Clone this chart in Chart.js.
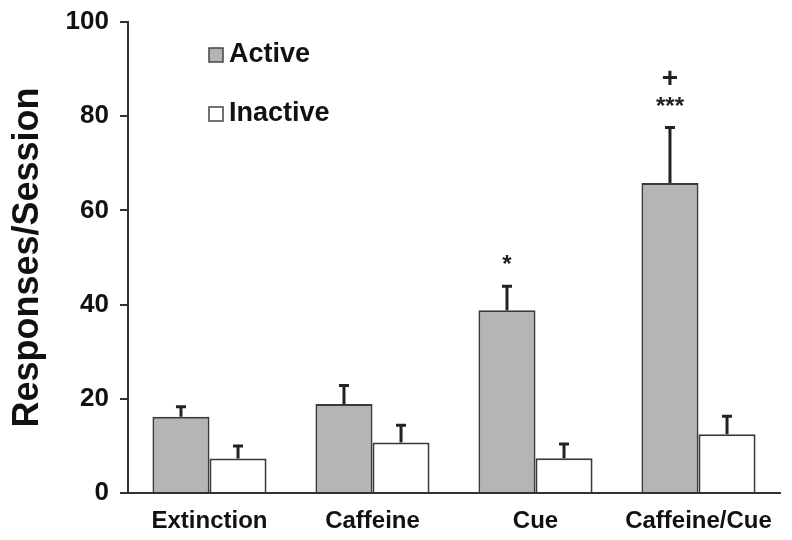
<!DOCTYPE html>
<html>
<head>
<meta charset="utf-8">
<script src="https://cdn.jsdelivr.net/npm/chart.js@4"></script>
<style>
  html, body { margin: 0; padding: 0; background: #fff; }
  #wrap { width: 792px; height: 540px; }
</style>
</head>
<body>
<div id="wrap"><canvas id="chart-responses"></canvas></div>
<script>
// data
var categories = ['Extinction', 'Caffeine', 'Cue', 'Caffeine/Cue'];
var activeMean = [16.2, 18.9, 38.8, 65.8];
var activeSem = [2.1, 3.9, 5.1, 11.8];
var inactiveMean = [7.3, 10.7, 7.4, 12.5];
var inactiveSem = [2.7, 3.7, 3.0, 3.8];
var activeMarks = ['', '', '*', '***'];
var activeMarks2 = ['', '', '', '+'];
var yTicks = [0, 20, 40, 60, 80, 100];

var axisColor = '#333';
var fontFam = 'Liberation Sans, Arial, sans-serif';

// error bars (upper half only) + significance marks
var errorBars = {
    id: 'errorBars',
    afterDatasetsDraw: function (chart) {
        var ctx = chart.ctx;
        var y = chart.scales.y;
        var sems = [activeSem, inactiveSem];
        ctx.save();
        ctx.strokeStyle = '#222';
        ctx.lineWidth = 3;
        chart.data.datasets.forEach(function (ds, i) {
            var meta = chart.getDatasetMeta(i);
            meta.data.forEach(function (bar, j) {
                var top = y.getPixelForValue(ds.data[j]);
                var hi = y.getPixelForValue(ds.data[j] + sems[i][j]);
                ctx.beginPath();
                ctx.moveTo(bar.x, top);
                ctx.lineTo(bar.x, hi);
                ctx.moveTo(bar.x - 5, hi);
                ctx.lineTo(bar.x + 5, hi);
                ctx.stroke();
                if (i === 0) {
                    ctx.fillStyle = '#222';
                    ctx.textAlign = 'center';
                    ctx.textBaseline = 'alphabetic';
                    if (activeMarks[j]) {
                        ctx.font = 'bold 24px ' + fontFam;
                        ctx.fillText(activeMarks[j], bar.x, hi - 14);
                    }
                    if (activeMarks2[j]) {
                        ctx.font = 'bold 28px ' + fontFam;
                        ctx.fillText(activeMarks2[j], bar.x, hi - 41);
                    }
                }
            });
        });
        ctx.restore();
    }
};

// legend inside the plot, top left
var innerLegend = {
    id: 'innerLegend',
    afterDraw: function (chart) {
        var ctx = chart.ctx;
        var items = [
            { text: 'Active', fill: '#b5b5b5', y: 55 },
            { text: 'Inactive', fill: '#ffffff', y: 114 }
        ];
        ctx.save();
        items.forEach(function (it) {
            ctx.fillStyle = it.fill;
            ctx.strokeStyle = '#444';
            ctx.lineWidth = 1.5;
            ctx.fillRect(209, it.y - 7, 14, 14);
            ctx.strokeRect(209, it.y - 7, 14, 14);
            ctx.fillStyle = '#111';
            ctx.font = 'bold 27px ' + fontFam;
            ctx.textAlign = 'left';
            ctx.textBaseline = 'middle';
            ctx.fillText(it.text, 229, it.y);
        });
        ctx.restore();
    }
};

var ctx = document.getElementById('chart-responses').getContext('2d');
var chart = new Chart(ctx, {
    type: 'bar',
    data: {
        labels: categories,
        datasets: [{
            label: 'Active',
            data: activeMean,
            backgroundColor: '#b5b5b5',
            borderColor: '#3a3a3a',
            borderWidth: 2,
            categoryPercentage: 0.7,
            barPercentage: 1.0
        }, {
            label: 'Inactive',
            data: inactiveMean,
            backgroundColor: '#ffffff',
            borderColor: '#3a3a3a',
            borderWidth: 2,
            categoryPercentage: 0.7,
            barPercentage: 1.0
        }]
    },
    options: {
        responsive: true,
        maintainAspectRatio: false,
        animation: false,
        layout: { padding: { top: 22, right: 12, left: 0, bottom: 0 } },
        plugins: {
            legend: { display: false },
            tooltip: { enabled: false }
        },
        scales: {
            x: {
                grid: { display: false },
                border: { display: true, color: axisColor, width: 2 },
                ticks: {
                    color: '#111',
                    font: { family: fontFam, size: 24, weight: 'bold' },
                    padding: 6
                },
                afterFit: function (s) {
                    s.height = 47;
                    s.paddingLeft = 0;
                    s.paddingRight = 0;
                }
            },
            y: {
                min: 0,
                max: 100,
                afterBuildTicks: function (s) {
                    s.ticks = yTicks.map(function (v) { return { value: v }; });
                },
                grid: {
                    drawOnChartArea: false,
                    drawTicks: true,
                    tickLength: 8,
                    color: axisColor,
                    lineWidth: 2
                },
                border: { display: true, color: axisColor, width: 2 },
                ticks: {
                    color: '#111',
                    font: { family: fontFam, size: 26, weight: 'bold' },
                    padding: 11
                },
                title: {
                    display: true,
                    text: 'Responses/Session',
                    color: '#111',
                    font: { family: fontFam, size: 36, weight: 'bold' },
                    padding: { top: 6, bottom: 4 }
                },
                afterFit: function (s) {
                    s.width = 128;
                    s.paddingTop = 0;
                    s.paddingBottom = 0;
                }
            }
        }
    },
    plugins: [errorBars, innerLegend]
});
</script>
</body>
</html>
